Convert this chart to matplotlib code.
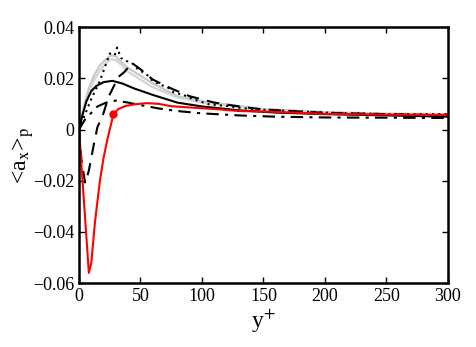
import matplotlib
matplotlib.use('Agg')
import matplotlib.pyplot as plt
import numpy as np

plt.rcParams['font.family'] = ['Liberation Serif', 'DejaVu Serif']
plt.rcParams['mathtext.fontset'] = 'stix'

# curves (y+, <a_x>_p)
x_red = [0, 2, 4, 6, 8, 10, 13, 17, 20, 23, 26, 28, 32, 38, 45, 55, 65, 75, 90, 110, 130, 150, 175, 200, 250, 300]
y_red = [0, -0.014, -0.028, -0.042, -0.056, -0.052, -0.036, -0.02, -0.011, -0.004, 0.002, 0.006, 0.008, 0.0092,
         0.0098, 0.0103, 0.0100, 0.0091, 0.0086, 0.0080, 0.0072, 0.0070, 0.0066, 0.0061, 0.0058, 0.0057]

x_solid = [0, 3, 6, 10, 14, 20, 27, 35, 45, 60, 80, 100, 130, 160, 200, 250, 300]
y_solid = [0, 0.006, 0.011, 0.015, 0.017, 0.0185, 0.019, 0.018, 0.016, 0.0135, 0.0105, 0.009, 0.0075,
           0.0066, 0.006, 0.0055, 0.005]

x_dash = [0, 2, 5, 8, 12, 15, 19, 24, 32, 37, 43, 50, 60, 75, 90, 110, 130, 150, 200, 250, 300]
y_dash = [0, -0.012, -0.021, -0.016, -0.006, 0.001, 0.005, 0.0127, 0.0205, 0.0225, 0.026, 0.0235, 0.0195,
          0.016, 0.013, 0.0105, 0.009, 0.0078, 0.0065, 0.006, 0.0055]

x_dot = [0, 5, 10, 17, 25, 29, 31, 34, 37, 43, 48, 55, 60, 66, 72, 77, 85, 93, 106, 120, 130, 145, 161, 200, 250, 300]
y_dot = [0, 0.006, 0.012, 0.019, 0.0297, 0.029, 0.032, 0.028, 0.027, 0.026, 0.0235, 0.0215, 0.019, 0.0175,
         0.0165, 0.0145, 0.0135, 0.0118, 0.0098, 0.0092, 0.0085, 0.0078, 0.0075, 0.0066, 0.006, 0.006]

x_dashdot = [0, 5, 10, 15, 22, 30, 40, 50, 65, 80, 100, 130, 160, 200, 250, 300]
y_dashdot = [0, 0.004, 0.0065, 0.009, 0.0105, 0.0113, 0.0105, 0.0095, 0.0082, 0.0072, 0.0063, 0.0055,
             0.005, 0.0047, 0.0046, 0.0045]

x_gray1 = [0, 4, 8, 12, 17, 22, 26, 30, 35, 40, 50, 60, 80, 100, 150, 200, 250, 300]
y_gray1 = [0, 0.009, 0.016, 0.021, 0.025, 0.0275, 0.029, 0.0285, 0.026, 0.024, 0.021, 0.018, 0.013,
           0.011, 0.008, 0.0068, 0.0062, 0.006]

x_gray2 = [0, 4, 8, 12, 17, 22, 26, 30, 35, 40, 50, 60, 80, 100, 150, 200, 250, 300]
y_gray2 = [0, 0.008, 0.014, 0.019, 0.023, 0.026, 0.0275, 0.027, 0.025, 0.0225, 0.0195, 0.0165, 0.0125,
           0.0105, 0.0078, 0.0066, 0.006, 0.0058]

marker_x = [28]
marker_y = [0.006]

fig = plt.figure(figsize=(4.76, 3.47), dpi=100)
ax = fig.add_axes([0.166, 0.184, 0.775, 0.738])

ax.plot(x_gray1, y_gray1, color='#c8c8c8', lw=1.6)
ax.plot(x_gray2, y_gray2, color='#d4d4d4', lw=1.6)
ax.plot(x_dot, y_dot, color='k', lw=1.5, ls=(0, (1, 2)))
ax.plot(x_dash, y_dash, color='k', lw=1.5, ls=(0, (6, 4)))
ax.plot(x_dashdot, y_dashdot, color='k', lw=1.5, ls=(0, (6, 3, 1.5, 3)))
ax.plot(x_solid, y_solid, color='k', lw=1.5)
ax.plot(x_red, y_red, color='red', lw=1.5)
ax.plot(marker_x, marker_y, 'o', color='red', ms=5)

ax.set_xlim(0, 300)
ax.set_ylim(-0.06, 0.04)
ax.set_xticks([0, 50, 100, 150, 200, 250, 300])
ax.set_yticks([-0.06, -0.04, -0.02, 0, 0.02, 0.04])
ax.set_yticklabels(['\u22120.06', '\u22120.04', '\u22120.02', '0', '0.02', '0.04'])
ax.tick_params(direction='in', top=True, right=True, labelsize=13, length=4, width=1)
for s in ax.spines.values():
    s.set_linewidth(1.8)

ax.set_xlabel(r'y$^{+}$', fontsize=17, labelpad=2)
ax.set_ylabel(r'<a$_{\mathrm{x}}$>$_{\mathrm{p}}$', fontsize=17, labelpad=-2)

fig.savefig('out.png', dpi=100)
